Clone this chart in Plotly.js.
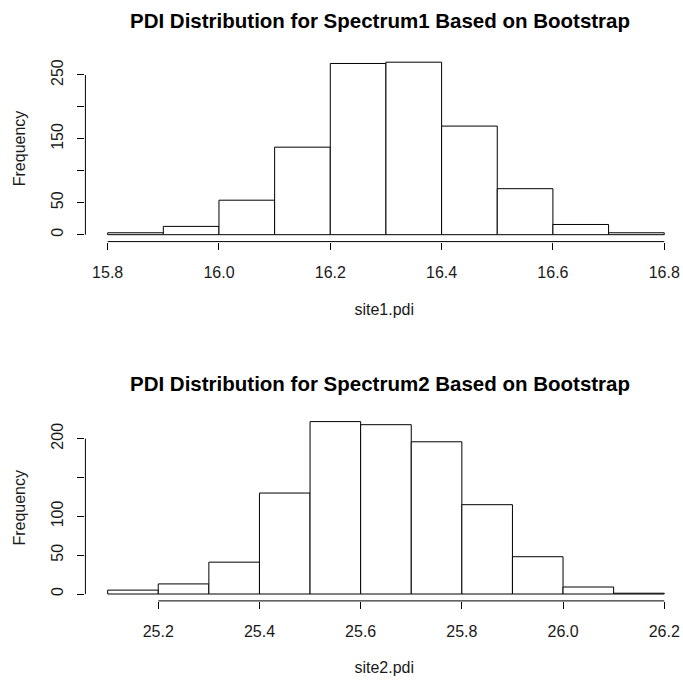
<!DOCTYPE html>
<html>
<head>
<meta charset="utf-8">
<script src="https://cdn.plot.ly/plotly-3.0.1.min.js"></script>
<style>html,body{margin:0;padding:0;background:#fff;}#chart{width:683px;height:680px;}</style>
</head>
<body>
<div id="chart"></div>
<script>
// ---- data ----
const site1Breaks = [15.8, 15.9, 16.0, 16.1, 16.2, 16.3, 16.4, 16.5, 16.6, 16.7, 16.8];
const site1Counts = [3, 13, 54, 137, 268, 270, 170, 72, 16, 3];
const site1XTicks = [15.8, 16.0, 16.2, 16.4, 16.6, 16.8];
const site1YTicks = [0, 50, 100, 150, 200, 250];
const site1YLabels = ["0", "50", "", "150", "", "250"];

const site2Breaks = [25.1, 25.2, 25.3, 25.4, 25.5, 25.6, 25.7, 25.8, 25.9, 26.0, 26.1, 26.2];
const site2Counts = [5, 13, 41, 130, 222, 218, 196, 115, 48, 9, 1];
const site2XTicks = [25.2, 25.4, 25.6, 25.8, 26.0, 26.2];
const site2YTicks = [0, 50, 100, 150, 200];
const site2YLabels = ["0", "50", "100", "", "200"];

const title1 = "PDI Distribution for Spectrum1 Based on Bootstrap";
const title2 = "PDI Distribution for Spectrum2 Based on Bootstrap";
const xTitle1 = "site1.pdi";
const xTitle2 = "site2.pdi";
const yTitle = "Frequency";

// ---- layout helpers ----
const W = 683, H = 680;
const FONT = "Liberation Sans, Arial, Helvetica, sans-serif";
const TXT = "#1a1a1a";

function mids(b) { return b.slice(0, -1).map((v, i) => (v + b[i + 1]) / 2); }
function widths(b) { return b.slice(0, -1).map((v, i) => b[i + 1] - v); }

// plot region (R style: 4% padding on the data range); the right side runs off the page
const PLOT_LEFT = 85.4;
const PLOT_RIGHT_FULL = 686.5;
const xDom = [PLOT_LEFT / W, 1];
const yDom1 = [1 - 241.6 / H, 1 - 55.3 / H];
const yDom2 = [1 - 600.9 / H, 1 - 414.7 / H];

function xRange(breaks, ticks) {
  const lo = Math.min(breaks[0], ticks[0]);
  const hi = Math.max(breaks[breaks.length - 1], ticks[ticks.length - 1]);
  const d = hi - lo;
  const r0 = lo - 0.04 * d, r1full = hi + 0.04 * d;
  const pxPerUnit = (PLOT_RIGHT_FULL - PLOT_LEFT) / (r1full - r0);
  return [r0, r0 + (W - PLOT_LEFT) / pxPerUnit];
}

function barTrace(breaks, counts, xa, ya) {
  return {
    type: "bar", x: mids(breaks), y: counts, width: widths(breaks),
    xaxis: xa, yaxis: ya,
    marker: { color: "#ffffff", line: { color: "#000000", width: 1 } },
    hoverinfo: "x+y", showlegend: false
  };
}

function xAxis(breaks, ticks, dom, anchor, title, standoff) {
  return {
    domain: dom, anchor: anchor, range: xRange(breaks, ticks),
    tickmode: "array", tickvals: ticks, ticktext: ticks.map(v => v.toFixed(1)),
    ticks: "outside", ticklen: 7, tickwidth: 1, tickcolor: "#000",
    ticklabelstandoff: 9,
    showline: false, showgrid: false, zeroline: false,
    tickfont: { family: FONT, size: 16, color: TXT },
    title: { text: title, font: { family: FONT, size: 16, color: TXT }, standoff: standoff }
  };
}

function yAxis(counts, ticks, labels, dom, anchor, title) {
  const hi = Math.max(...counts);
  return {
    domain: dom, anchor: anchor, range: [-0.04 * hi, 1.04 * hi],
    tickmode: "array", tickvals: ticks, ticktext: labels, tickangle: -90,
    ticks: "outside", ticklen: 7, tickwidth: 1, tickcolor: "#000",
    ticklabelstandoff: 8,
    showline: false, showgrid: false, zeroline: false,
    tickfont: { family: FONT, size: 16, color: TXT },
    title: { text: title, font: { family: FONT, size: 16, color: TXT }, standoff: 19 }
  };
}

function axisLines(xTicks, yTicks, xr, yr) {
  return [
    { type: "line", xref: xr, yref: yr + " domain",
      x0: xTicks[0], x1: xTicks[xTicks.length - 1], y0: 0, y1: 0,
      line: { color: "#000", width: 1 } },
    { type: "line", xref: xr + " domain", yref: yr,
      x0: 0, x1: 0, y0: yTicks[0], y1: yTicks[yTicks.length - 1],
      line: { color: "#000", width: 1 } }
  ];
}

const data = [
  barTrace(site1Breaks, site1Counts, "x", "y"),
  barTrace(site2Breaks, site2Counts, "x2", "y2")
];

const TITLE_X = 380 / W;
const layout = {
  width: W, height: H,
  margin: { l: 0, r: 0, t: 0, b: 0, pad: 0 },
  paper_bgcolor: "#fff", plot_bgcolor: "#fff",
  bargap: 0,
  xaxis: xAxis(site1Breaks, site1XTicks, xDom, "y", xTitle1, 24),
  yaxis: yAxis(site1Counts, site1YTicks, site1YLabels, yDom1, "x", yTitle),
  xaxis2: xAxis(site2Breaks, site2XTicks, xDom, "y2", xTitle2, 22),
  yaxis2: yAxis(site2Counts, site2YTicks, site2YLabels, yDom2, "x2", yTitle),
  shapes: axisLines(site1XTicks, site1YTicks, "x", "y")
    .concat(axisLines(site2XTicks, site2YTicks, "x2", "y2")),
  annotations: [
    { text: "<b>" + title1 + "</b>", xref: "paper", yref: "paper",
      x: TITLE_X, y: 1 - 20 / H, xanchor: "center", yanchor: "middle",
      showarrow: false, font: { family: FONT, size: 20.5, color: "#000" } },
    { text: "<b>" + title2 + "</b>", xref: "paper", yref: "paper",
      x: TITLE_X, y: 1 - 383 / H, xanchor: "center", yanchor: "middle",
      showarrow: false, font: { family: FONT, size: 20.5, color: "#000" } }
  ]
};

Plotly.newPlot("chart", data, layout, { staticPlot: true, displayModeBar: false });
</script>
</body>
</html>
